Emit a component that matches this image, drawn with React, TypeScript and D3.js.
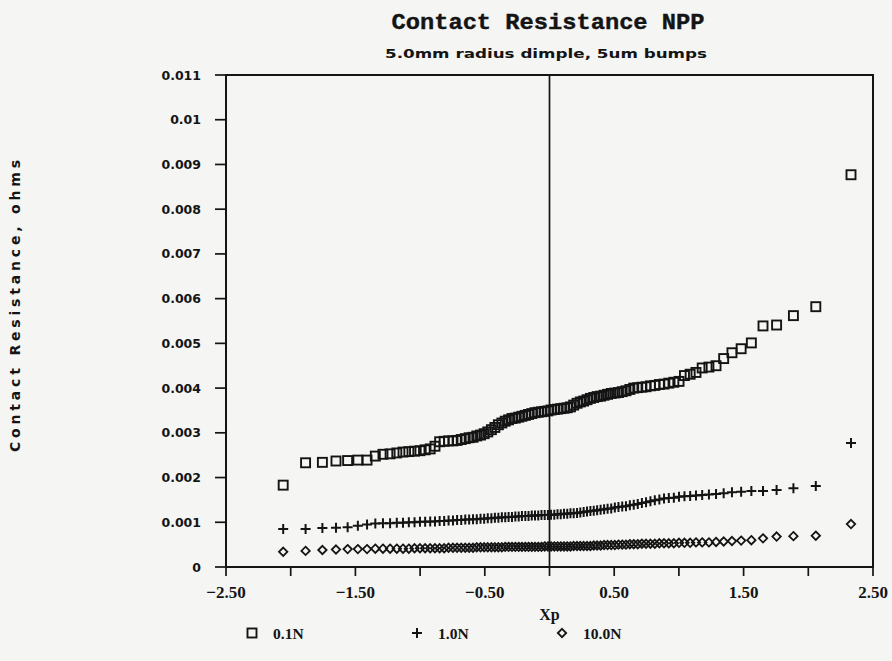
import React from "react";
import * as d3 from "d3";

// normal probability positions (Xp) shared by all three series
const xp = [
  -2.058, -1.885, -1.755, -1.65, -1.56, -1.481, -1.41, -1.346, -1.287, -1.232,
  -1.18, -1.132, -1.087, -1.043, -1.001, -0.961, -0.922, -0.885, -0.849, -0.814,
  -0.78, -0.746, -0.714, -0.682, -0.651, -0.621, -0.591, -0.562, -0.533, -0.505,
  -0.477, -0.449, -0.422, -0.395, -0.368, -0.342, -0.316, -0.29, -0.264, -0.238,
  -0.213, -0.187, -0.162, -0.137, -0.112, -0.087, -0.062, -0.037, -0.012,
  0.012, 0.037, 0.062, 0.087, 0.112, 0.137, 0.162, 0.187, 0.213, 0.238,
  0.264, 0.29, 0.316, 0.342, 0.368, 0.395, 0.422, 0.449, 0.477, 0.505,
  0.533, 0.562, 0.591, 0.621, 0.651, 0.682, 0.714, 0.746, 0.78, 0.814,
  0.849, 0.885, 0.922, 0.961, 1.001, 1.043, 1.087, 1.132, 1.18, 1.232,
  1.287, 1.346, 1.41, 1.481, 1.56, 1.65, 1.755, 1.885, 2.058, 2.33,
];

// contact resistance in milliohms
const r01N = [
  1.83, 2.33, 2.34, 2.37, 2.38, 2.39, 2.39, 2.48, 2.52, 2.53,
  2.55, 2.57, 2.58, 2.59, 2.6, 2.62, 2.64, 2.7, 2.8, 2.81,
  2.82, 2.82, 2.83, 2.85, 2.87, 2.89, 2.9, 2.93, 2.95, 2.98,
  3.02, 3.07, 3.12, 3.18, 3.22, 3.26, 3.29, 3.32, 3.33, 3.35,
  3.37, 3.39, 3.41, 3.43, 3.45, 3.46, 3.47, 3.48, 3.49,
  3.51, 3.52, 3.53, 3.54, 3.55, 3.56, 3.58, 3.62, 3.66, 3.69,
  3.71, 3.74, 3.77, 3.79, 3.81, 3.82, 3.84, 3.86, 3.88, 3.89,
  3.9, 3.92, 3.94, 3.97, 4.0, 4.01, 4.02, 4.03, 4.05, 4.06,
  4.08, 4.09, 4.11, 4.13, 4.15, 4.28, 4.31, 4.35, 4.45, 4.47,
  4.5, 4.66, 4.79, 4.88, 5.01, 5.39, 5.41, 5.62, 5.82, 8.77,
];

const r1N = [
  0.85, 0.85, 0.87, 0.88, 0.89, 0.92, 0.95, 0.97, 0.98, 0.98,
  0.99, 0.99, 1.0, 1.0, 1.01, 1.01, 1.02, 1.02, 1.03, 1.03,
  1.04, 1.04, 1.05, 1.05, 1.06, 1.06, 1.07, 1.07, 1.08, 1.08,
  1.09, 1.09, 1.1, 1.1, 1.11, 1.11, 1.12, 1.12, 1.13, 1.13,
  1.14, 1.14, 1.14, 1.15, 1.15, 1.15, 1.16, 1.16, 1.16,
  1.17, 1.17, 1.18, 1.18, 1.19, 1.19, 1.2, 1.2, 1.21, 1.22,
  1.23, 1.24, 1.25, 1.26, 1.27, 1.28, 1.29, 1.3, 1.31, 1.33,
  1.34, 1.35, 1.36, 1.38, 1.39, 1.41, 1.43, 1.45, 1.47, 1.49,
  1.51, 1.53, 1.54, 1.55, 1.57, 1.58, 1.59, 1.6, 1.61, 1.62,
  1.63, 1.65, 1.67, 1.68, 1.7, 1.7, 1.72, 1.76, 1.81, 2.77,
];

const r10N = [
  0.34, 0.36, 0.38, 0.39, 0.4, 0.4, 0.4, 0.41, 0.41, 0.41,
  0.41, 0.41, 0.41, 0.42, 0.42, 0.42, 0.42, 0.42, 0.42, 0.42,
  0.43, 0.43, 0.43, 0.43, 0.43, 0.43, 0.43, 0.44, 0.44, 0.44,
  0.44, 0.44, 0.44, 0.44, 0.44, 0.45, 0.45, 0.45, 0.45, 0.45,
  0.45, 0.45, 0.45, 0.45, 0.45, 0.45, 0.45, 0.46, 0.46,
  0.46, 0.46, 0.46, 0.46, 0.46, 0.46, 0.46, 0.47, 0.47, 0.47,
  0.47, 0.47, 0.47, 0.48, 0.48, 0.48, 0.49, 0.49, 0.49, 0.49,
  0.5, 0.5, 0.5, 0.51, 0.51, 0.51, 0.52, 0.52, 0.52, 0.52,
  0.53, 0.53, 0.53, 0.53, 0.54, 0.54, 0.54, 0.55, 0.55, 0.55,
  0.56, 0.57, 0.58, 0.59, 0.6, 0.64, 0.68, 0.69, 0.7, 0.96,
];

const seriesNames = ["0.1N", "1.0N", "10.0N"];
const yTickValues = [0, 0.001, 0.002, 0.003, 0.004, 0.005, 0.006, 0.007, 0.008, 0.009, 0.01, 0.011];
const yTickLabels = ["0", "0.001", "0.002", "0.003", "0.004", "0.005", "0.006", "0.007", "0.008", "0.009", "0.01", "0.011"];
const xTickValues = [-2.5, -2, -1.5, -1, -0.5, 0, 0.5, 1, 1.5, 2, 2.5];
const xLabelValues = [-2.5, -1.5, -0.5, 0.5, 1.5, 2.5];

const ink = "#141414";

function marker(kind: number, x: number, y: number, key: string) {
  if (kind === 0) {
    return <rect key={key} x={x - 4.5} y={y - 4.5} width={9} height={9} fill="none" stroke={ink} strokeWidth={1.9} />;
  }
  if (kind === 1) {
    return (
      <path key={key} d={`M${x - 5},${y}H${x + 5}M${x},${y - 5}V${y + 5}`} stroke={ink} strokeWidth={2} fill="none" />
    );
  }
  return (
    <path key={key} d={`M${x},${y - 4.2}L${x + 4.2},${y}L${x},${y + 4.2}L${x - 4.2},${y}Z`} stroke={ink} strokeWidth={1.8} fill="none" />
  );
}

export default function App() {
  const width = 892, height = 661;
  const left = 226, right = 873, top = 75, bottom = 567;
  const x = d3.scaleLinear().domain([-2.5, 2.5]).range([left, right]);
  const y = d3.scaleLinear().domain([0, 0.011]).range([bottom, top]);
  const series = [r01N, r1N, r10N];
  const fmt = d3.format(".2f");

  return (
    <svg width={width} height={height} style={{ position: "absolute", left: 0, top: 0 }}>
      <rect width={width} height={height} fill="#f5f5f3" />
      <text x={548} y={29} textAnchor="middle" fontFamily="Liberation Mono" fontWeight="bold" fontSize={22} fill={ink}
        stroke={ink} strokeWidth={0.4} textLength={313} lengthAdjust="spacingAndGlyphs">
        Contact Resistance NPP
      </text>
      <text x={546} y={58} textAnchor="middle" fontFamily="DejaVu Sans" fontWeight="bold" fontSize={12} fill={ink}
        textLength={322} lengthAdjust="spacingAndGlyphs">
        5.0mm radius dimple, 5um bumps
      </text>

      {/* frame */}
      <rect x={left} y={top} width={right - left} height={bottom - top} fill="none" stroke={ink} strokeWidth={2} />
      <line x1={x(0)} x2={x(0)} y1={top} y2={bottom} stroke={ink} strokeWidth={1.7} />

      {/* y ticks */}
      {yTickValues.map((v, i) => (
        <g key={"y" + i}>
          <line x1={left - 11} x2={left} y1={y(v)} y2={y(v)} stroke={ink} strokeWidth={1.7} />
          <text x={201} y={y(v) + 4.5} textAnchor="end" fontFamily="DejaVu Sans" fontWeight="bold" fontSize={12.5}
            fill={ink}>
            {yTickLabels[i]}
          </text>
        </g>
      ))}

      {/* x ticks */}
      {xTickValues.map((v, i) => (
        <line key={"xt" + i} x1={x(v)} x2={x(v)} y1={bottom} y2={bottom + 9} stroke={ink} strokeWidth={1.7} />
      ))}
      {xLabelValues.map((v, i) => (
        <text key={"xl" + i} x={x(v)} y={598} textAnchor="middle" fontFamily="Liberation Serif" fontWeight="bold"
          fontSize={17} fill={ink}>
          {(v < 0 ? "\u2212" : "") + fmt(Math.abs(v))}
        </text>
      ))}

      <text x={x(0)} y={620} textAnchor="middle" fontFamily="Liberation Serif" fontWeight="bold" fontSize={16} fill={ink}>
        Xp
      </text>
      <text transform="translate(20,306) rotate(-90)" textAnchor="middle" fontFamily="DejaVu Sans" fontWeight="bold"
        fontSize={14} fill={ink} textLength={292} lengthAdjust="spacing">
        Contact Resistance, ohms
      </text>

      {/* data */}
      {series.map((vals, s) => (
        <g key={"s" + s}>
          {vals.map((v, i) => marker(s, x(xp[i]), y(v / 1000), `m${s}-${i}`))}
        </g>
      ))}

      {/* legend */}
      {seriesNames.map((name, i) => {
        const lx = [252, 417, 562][i];
        return (
          <g key={"lg" + i}>
            {marker(i, lx, 633, "lm" + i)}
            <text x={lx + 21} y={638.5} fontFamily="Liberation Serif" fontWeight="bold" fontSize={15.5} fill={ink}>
              {name}
            </text>
          </g>
        );
      })}
    </svg>
  );
}
